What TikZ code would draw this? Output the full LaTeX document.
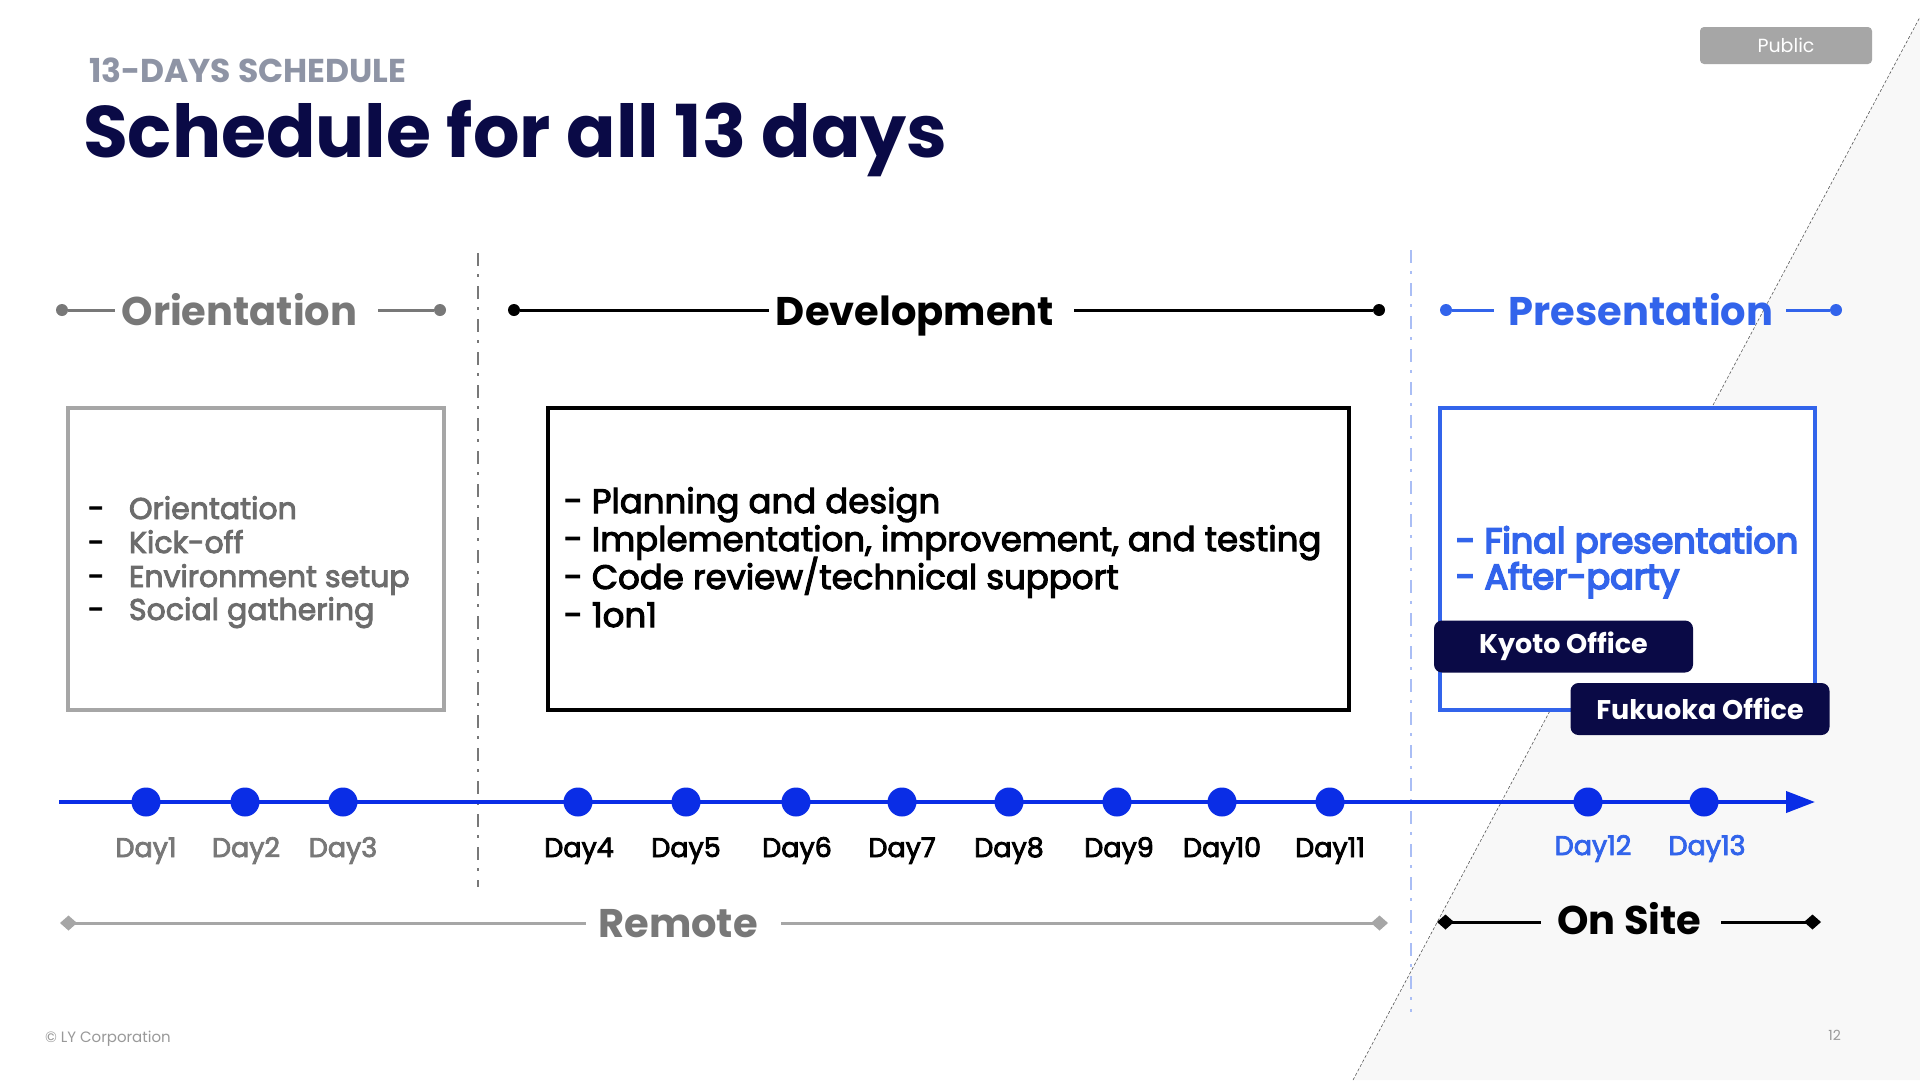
\documentclass[tikz,border=0pt]{standalone}
\usepackage{fontspec}
\setmainfont{Poppins}
\newfontfamily\popmed{Poppins}[FakeBold=3]
\newfontfamily\popsemi{Poppins}[FakeBold=5]
\usetikzlibrary{arrows.meta,shapes.geometric}
\definecolor{navy}{RGB}{10,10,70}
\definecolor{subgray}{RGB}{142,148,165}
\definecolor{tgray}{RGB}{120,120,120}
\definecolor{bgray}{RGB}{166,166,166}
\definecolor{tblue}{RGB}{10,45,230}
\definecolor{pblue}{RGB}{50,100,235}
\definecolor{lblue}{RGB}{170,190,245}
\definecolor{bgfill}{RGB}{248,248,248}
\newcommand{\fs}[1]{\fontsize{#1}{#1}\selectfont}
\begin{document}
\begin{tikzpicture}[x=1pt,y=-1pt,
  txt/.style={inner sep=0pt,outer sep=0pt},
  hdot/.style={circle,fill,inner sep=0pt,minimum size=12pt},
  hline/.style={line width=3pt},
  sepline/.style={line width=2.5pt,dash pattern=on 13pt off 8pt on 3pt off 9pt},
  frame/.style={line width=4pt},
  daydot/.style={circle,fill=tblue,inner sep=0pt,minimum size=29pt},
  daylbl/.style={txt,anchor=base,font=\popmed\fs{27}},
  office/.style={fill=navy,rounded corners=8pt,text=white,font=\bfseries\fs{27},inner sep=0pt,minimum width=259pt,minimum height=52pt},
  hdr/.style={txt,anchor=base,font=\bfseries\fs{40}},
  olist/.style={txt,anchor=base west,font=\popmed\fs{30},text=tgray!90!black},
  dlist/.style={txt,anchor=base west,font=\popmed\fs{34}},
  plist/.style={txt,anchor=base west,font=\popsemi\fs{35},text=pblue},
  dmd/.tip={Diamond[length=17pt,width=15pt]}
]
\useasboundingbox (0,0) rectangle (1920,1080);
\fill[white] (0,0) rectangle (1920,1080);
% background wedge
\fill[bgfill] (1353,1080) -- (1920,17) -- (1920,1080) -- cycle;
\draw[black!65,line width=0.6pt,dash pattern=on 3pt off 2pt] (1353,1080) -- (1920,17);

% titles
\node[txt,anchor=base west,text=subgray,font=\bfseries\fs{33}] (sub) at (89,82) {13-DAYS SCHEDULE};
\node[txt,anchor=base west,text=navy,font=\bfseries\fs{73}] (title) at (83,157) {Schedule for all 13 days};
\node[fill=bgray,rounded corners=4pt,text=white,font=\fs{19},inner sep=0pt,minimum width=172pt,minimum height=37pt] (public) at (1786,45.5) {Public};

% separators
\coordinate (gs1) at (478,253);
\coordinate (gs2) at (478,887);
\draw[sepline,tgray] (gs1) -- (gs2);
\coordinate (bs1) at (1411,250);
\coordinate (bs2) at (1411,1012);
\draw[sepline,lblue] (bs1) -- (bs2);

% section headers
\node[hdot,tgray] (od1) at (62,310) {};
\coordinate (oe1) at (115,310);
\node[hdr,text=tgray] (oriT) at (239.5,325) {Orientation};
\coordinate (os2) at (378,310);
\node[hdot,tgray] (od2) at (440,310) {};
\draw[hline,tgray] (od1) -- (oe1);
\draw[hline,tgray] (os2) -- (od2);

\node[hdot,black] (dd1) at (514,310) {};
\coordinate (de1) at (769,310);
\node[hdr,text=black] (devT) at (915,325) {Development};
\coordinate (ds2) at (1074,310);
\node[hdot,black] (dd2) at (1379,310) {};
\draw[hline] (dd1) -- (de1);
\draw[hline] (ds2) -- (dd2);

\node[hdot,pblue] (pd1) at (1446,310) {};
\coordinate (pe1) at (1494,310);
\node[hdr,text=pblue] (preT) at (1641,325) {Presentation};
\coordinate (ps2) at (1786,310);
\node[hdot,pblue] (pd2) at (1836,310) {};
\draw[hline,pblue] (pd1) -- (pe1);
\draw[hline,pblue] (ps2) -- (pd2);

% boxes
\draw[frame,bgray] (68,408) rectangle (444,710);
\draw[frame,black] (548,408) rectangle (1349,710);
\draw[frame,pblue,fill=white] (1440,408) rectangle (1815,710);

% orientation list
\node[olist] (o1) at (88,519) {\makebox[41pt][l]{\color{black}-}Orientation};
\node[olist] (o2) at (88,553) {\makebox[41pt][l]{\color{black}-}Kick-off};
\node[olist] (o3) at (88,587) {\makebox[41pt][l]{\color{black}-}Environment setup};
\node[olist] (o4) at (88,620) {\makebox[41pt][l]{\color{black}-}Social gathering};

% development list
\node[dlist] (l1) at (564,513) {- Planning and design};
\node[dlist] (l2) at (564,551) {- Implementation, improvement, and testing};
\node[dlist] (l3) at (564,589) {- Code review/technical support};
\node[dlist] (l4) at (564,627) {- 1on1};

% presentation list
\node[plist] (p1) at (1456,553) {- Final presentation};
\node[plist] (p2) at (1456,589) {- After-party};

% offices
\node[office] (kyoto) at (1563.5,646.5) {Kyoto Office};
\node[office] (fukuoka) at (1700,709) {Fukuoka Office};

% timeline
\coordinate (tlS) at (59,802);
\coordinate (tlE) at (1815,802);
\draw[tblue,line width=4pt,-{Triangle[length=29pt,width=21pt]}] (tlS) -- (tlE);
\foreach \i/\x in {1/146,2/245,3/343,4/578,5/686,6/796,7/902,8/1009,9/1117,10/1222,11/1330,12/1588,13/1704}
  \node[daydot] (d\i) at (\x,802) {};

\node[daylbl,text=tgray] (l1d) at (146,857) {Day1};
\node[daylbl,text=tgray] (l2d) at (246,857) {Day2};
\node[daylbl,text=tgray] (l3d) at (343,857) {Day3};
\node[daylbl] (l4d) at (579,857) {Day4};
\node[daylbl] (l5d) at (686,857) {Day5};
\node[daylbl] (l6d) at (797,857) {Day6};
\node[daylbl] (l7d) at (902,857) {Day7};
\node[daylbl] (l8d) at (1009,857) {Day8};
\node[daylbl] (l9d) at (1119,857) {Day9};
\node[daylbl] (l10d) at (1222,857) {Day10};
\node[daylbl] (l11d) at (1330,857) {Day11};
\node[daylbl,text=pblue] (l12d) at (1593,855) {Day12};
\node[daylbl,text=pblue] (l13d) at (1707,855) {Day13};

% remote / on site
\coordinate (rA) at (60,923);
\coordinate (rB) at (586,923);
\node[hdr,text=tgray] (remT) at (678,937) {Remote};
\coordinate (rC) at (781,923);
\coordinate (rD) at (1388,923);
\draw[bgray,line width=3pt,{dmd}-] (rA) -- (rB);
\draw[bgray,line width=3pt,-{dmd}] (rC) -- (rD);

\coordinate (sA) at (1437,922);
\coordinate (sB) at (1541,922);
\node[hdr,text=black] (siteT) at (1629.5,934) {On Site};
\coordinate (sC) at (1721,922);
\coordinate (sD) at (1821,922);
\draw[black,line width=3pt,{dmd}-] (sA) -- (sB);
\draw[black,line width=3pt,-{dmd}] (sC) -- (sD);

% footer
\node[txt,anchor=base west,text=black!40,font=\fs{15}] (copy) at (45,1042) {© LY Corporation};
\node[txt,anchor=base east,text=black!40,font=\fs{14}] (pg) at (1841,1040) {12};
\end{tikzpicture}
\end{document}
